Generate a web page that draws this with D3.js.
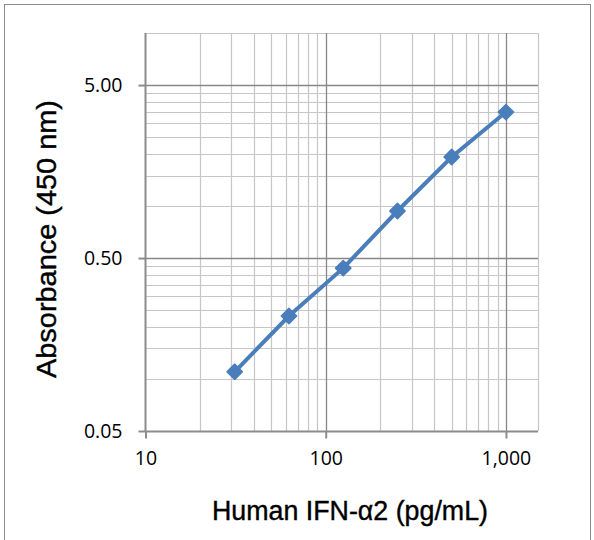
<!DOCTYPE html>
<html>
<head>
<meta charset="utf-8">
<script src="https://cdn.jsdelivr.net/npm/d3@7"></script>
<style>
  body { margin: 0; background: #fff; }
  svg { display: block; }
</style>
</head>
<body>
<svg id="chart" width="594" height="540"></svg>
<script>
// concentraciones (pg/mL) y absorbancias
const concentrations = [31.25, 62.5, 125, 250, 500, 1000];
const absorbance = [0.110, 0.231, 0.437, 0.935, 1.92, 3.49];
const xTicks = [10, 100, 1000];
const xTickLabels = ["10", "100", "1,000"];
const yTicks = [0.05, 0.5, 5];
const yTickLabels = ["0.05", "0.50", "5.00"];

const svg = d3.select("#chart");
const lineColor = "#4a7ebb";

// borde del area del grafico
svg.append("rect")
  .attr("x", 4.5).attr("y", 4.5)
  .attr("width", 586).attr("height", 540)
  .attr("fill", "none")
  .attr("stroke", "#8a8a8a")
  .attr("stroke-width", 1);

const x = d3.scaleLog().domain([10, 1506]).range([145.5, 538]);
const y = d3.scaleLog().domain([0.05, 10]).range([431, 33]);

// gridlines menores
const xMinor = [];
[10, 100, 1000].forEach(b => { for (let k = 2; k <= 9; k++) if (b * k <= 1506) xMinor.push(b * k); });
const yMinor = [];
[0.05, 0.5].forEach(b => { for (let k = 2; k <= 9; k++) yMinor.push(b * k); });
yMinor.push(10);

const g = svg.append("g");

g.selectAll(".xminor").data(xMinor).enter().append("line")
  .attr("x1", d => Math.round(x(d)) + 0.5).attr("x2", d => Math.round(x(d)) + 0.5)
  .attr("y1", y(10)).attr("y2", y(0.05))
  .attr("stroke", "#c6c6c6").attr("stroke-width", 1.2);

g.selectAll(".yminor").data(yMinor).enter().append("line")
  .attr("x1", x(10)).attr("x2", 538)
  .attr("y1", d => Math.round(y(d)) + 0.5).attr("y2", d => Math.round(y(d)) + 0.5)
  .attr("stroke", "#c6c6c6").attr("stroke-width", 1.2);

// borde derecho del plot
g.append("line")
  .attr("x1", 538.5).attr("x2", 538.5)
  .attr("y1", y(10)).attr("y2", y(0.05))
  .attr("stroke", "#c6c6c6").attr("stroke-width", 1.2);

// gridlines mayores
g.selectAll(".xmajor").data([100, 1000]).enter().append("line")
  .attr("x1", d => Math.round(x(d)) + 0.5).attr("x2", d => Math.round(x(d)) + 0.5)
  .attr("y1", y(10)).attr("y2", y(0.05))
  .attr("stroke", "#878787").attr("stroke-width", 1.3);

g.selectAll(".ymajor").data([0.5, 5]).enter().append("line")
  .attr("x1", x(10)).attr("x2", 538)
  .attr("y1", d => Math.round(y(d)) + 0.5).attr("y2", d => Math.round(y(d)) + 0.5)
  .attr("stroke", "#878787").attr("stroke-width", 1.3);

// ejes
const xAxis = d3.axisBottom(x).tickValues(xTicks)
  .tickFormat((d, i) => xTickLabels[i]).tickSize(7).tickPadding(13);
const yAxis = d3.axisLeft(y).tickValues(yTicks)
  .tickFormat((d, i) => yTickLabels[i]).tickSize(7).tickPadding(16);

const gx = svg.append("g").attr("transform", "translate(0,431.5)").call(xAxis);
const gy = svg.append("g").attr("transform", "translate(145.5,0)").call(yAxis);

[gx, gy].forEach(a => {
  a.select(".domain").attr("stroke", "#8c8c8c").attr("stroke-width", 2);
  a.selectAll(".tick line").attr("stroke", "#8c8c8c").attr("stroke-width", 2);
  a.selectAll(".tick text")
    .attr("fill", "#000")
    .style("font-family", "'Open Sans', 'DejaVu Sans', sans-serif")
    .style("font-size", "19.5px");
});
gx.select(".domain").attr("d", "M145.5,0H538");
gy.select(".domain").attr("d", "M0," + y(10) + "V431.5");

// serie
const line = d3.line()
  .x((d, i) => x(concentrations[i]))
  .y(d => y(d));

svg.append("path")
  .datum(absorbance)
  .attr("d", line)
  .attr("fill", "none")
  .attr("stroke", lineColor)
  .attr("stroke-width", 4);

svg.selectAll(".pt").data(absorbance).enter().append("path")
  .attr("d", d3.symbol().type(d3.symbolDiamond2).size(150))
  .attr("transform", (d, i) => `translate(${x(concentrations[i])},${y(d)})`)
  .attr("fill", lineColor)
  .attr("stroke", lineColor)
  .attr("stroke-width", 1.5)
  .attr("stroke-linejoin", "round");

// titulos
svg.append("text")
  .attr("x", 212).attr("y", 520)
  .attr("textLength", 276)
  .attr("lengthAdjust", "spacingAndGlyphs")
  .style("font-family", "'Liberation Sans', Arial, sans-serif")
  .style("font-size", "27px")
  .attr("stroke", "#000").attr("stroke-width", 0.4)
  .text("Human IFN-α2 (pg/mL)");

svg.append("text")
  .attr("transform", "translate(56,378) rotate(-90)")
  .attr("textLength", 278)
  .attr("lengthAdjust", "spacingAndGlyphs")
  .style("font-family", "'Liberation Sans', Arial, sans-serif")
  .style("font-size", "27px")
  .attr("stroke", "#000").attr("stroke-width", 0.4)
  .text("Absorbance (450 nm)");
</script>
</body>
</html>
